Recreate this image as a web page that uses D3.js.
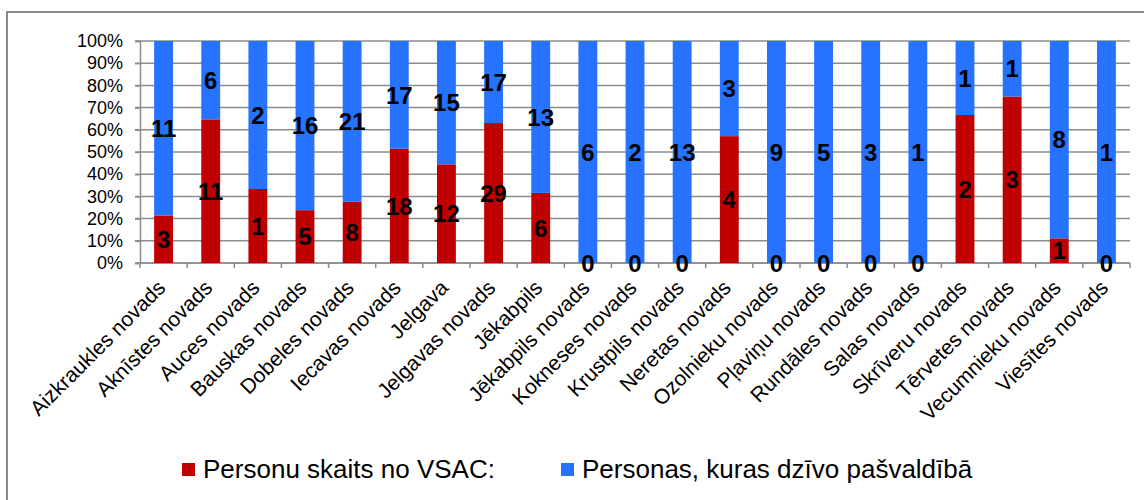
<!DOCTYPE html>
<html>
<head>
<meta charset="utf-8">
<script src="https://cdn.jsdelivr.net/npm/d3@7"></script>
<style>
    body { margin: 0; background: #fff; }
    svg { display: block; font-family: "Liberation Sans", Arial, sans-serif; }
</style>
</head>
<body>
<svg width="1144" height="500"></svg>
<script>
"use strict"

// novadi
const categories = [
    "Aizkraukles novads", "Aknīstes novads", "Auces novads", "Bauskas novads",
    "Dobeles novads", "Iecavas novads", "Jelgava", "Jelgavas novads", "Jēkabpils",
    "Jēkabpils novads", "Kokneses novads", "Krustpils novads", "Neretas novads",
    "Ozolnieku novads", "Pļaviņu novads", "Rundāles novads", "Salas novads",
    "Skrīveru novads", "Tērvetes novads", "Vecumnieku novads", "Viesītes novads"
]
// Personu skaits no VSAC
const fromVsac = [3, 11, 1, 5, 8, 18, 12, 29, 6, 0, 0, 0, 4, 0, 0, 0, 0, 2, 3, 1, 0]
// Personas, kuras dzīvo pašvaldībā
const living = [11, 6, 2, 16, 21, 17, 15, 17, 13, 6, 2, 13, 3, 9, 5, 3, 1, 1, 1, 8, 1]

const yTicks = [0, 0.1, 0.2, 0.3, 0.4, 0.5, 0.6, 0.7, 0.8, 0.9, 1]

const seriesNames = ["Personu skaits no VSAC:", "Personas, kuras dzīvo pašvaldībā"]
const seriesColors = ["#c00000", "#2673ff"]

const svg = d3.select("svg")

const area = { left: 140, right: 1130, top: 41, bottom: 263 }

// rāmis
svg.append("rect")
    .attr("x", 7).attr("y", 12)
    .attr("width", 1300).attr("height", 700)
    .style("fill", "none")
    .style("stroke", "#8a8a8a")
    .style("stroke-width", 2)

// tabula stacked datiem
const table = categories.map((c, i) => ({ cat: c, a: fromVsac[i], b: living[i] }))
const stacked = d3.stack().keys(["a", "b"]).offset(d3.stackOffsetExpand)(table)

const scX = d3.scaleBand()
    .domain(categories)
    .range([area.left, area.right])
    .padding(0)

const scY = d3.scaleLinear()
    .domain([0, 1])
    .range([area.bottom, area.top])

// režģis
svg.append("g")
    .selectAll("line")
    .data(yTicks)
    .enter()
    .append("line")
    .attr("x1", area.left - 5)
    .attr("x2", area.right)
    .attr("y1", d => scY(d))
    .attr("y2", d => scY(d))
    .style("stroke", "#8c8c8c")
    .style("stroke-width", 1.5)

// Y ass
const axisY = d3.axisLeft(scY)
    .tickValues(yTicks)
    .tickFormat(d3.format(".0%"))
    .tickSize(5)
    .tickPadding(12)

const gY = svg.append("g")
    .attr("transform", `translate(${area.left}, 0)`)
    .call(axisY)
gY.select(".domain").style("stroke", "#8c8c8c").style("stroke-width", 1.5)
gY.selectAll(".tick line").style("stroke", "#8c8c8c").style("stroke-width", 1.5)
gY.selectAll("text")
    .style("font-size", "18px")
    .style("font-family", "'Liberation Sans', Arial, sans-serif")
    .style("fill", "#000")

// X ass ar atzīmēm starp kategorijām
svg.append("line")
    .attr("x1", area.left).attr("x2", area.right)
    .attr("y1", area.bottom).attr("y2", area.bottom)
    .style("stroke", "#8c8c8c")
    .style("stroke-width", 1.5)

svg.append("g")
    .selectAll("line")
    .data(categories.concat([null]))
    .enter()
    .append("line")
    .attr("x1", (d, i) => area.left + i * scX.step())
    .attr("x2", (d, i) => area.left + i * scX.step())
    .attr("y1", area.bottom)
    .attr("y2", area.bottom + 5)
    .style("stroke", "#8c8c8c")
    .style("stroke-width", 1.5)

// slīpie paraksti
svg.append("g")
    .selectAll("text")
    .data(categories)
    .enter()
    .append("text")
    .attr("transform", d => `translate(${scX(d) + scX.bandwidth() / 2 + 3}, ${area.bottom + 26}) rotate(-45)`)
    .style("text-anchor", "end")
    .style("font-size", "21px")
    .style("fill", "#000")
    .text(d => d)

// stabiņi
const barW = scX.step() * 0.4
const layers = svg.selectAll(".layer")
    .data(stacked)
    .enter()
    .append("g")
    .attr("class", "layer")
    .style("fill", (d, i) => seriesColors[i])

layers.selectAll("rect")
    .data(d => d)
    .enter()
    .append("rect")
    .attr("x", d => scX(d.data.cat) + (scX.bandwidth() - barW) / 2)
    .attr("y", d => scY(d[1]))
    .attr("width", barW)
    .attr("height", d => scY(d[0]) - scY(d[1]))

// vērtību paraksti
stacked.forEach(layer => {
    svg.append("g")
        .selectAll("text")
        .data(layer)
        .enter()
        .append("text")
        .attr("x", d => scX(d.data.cat) + scX.bandwidth() / 2)
        .attr("y", d => scY((d[0] + d[1]) / 2))
        .attr("dy", ".36em")
        .style("text-anchor", "middle")
        .style("font-size", "24px")
        .style("font-weight", "bold")
        .style("fill", "#000")
        .text(d => d.data[layer.key])
})

// leģenda
const legendX = [182, 561]
const legend = svg.append("g")
    .selectAll("g")
    .data(seriesNames)
    .enter()
    .append("g")
    .attr("transform", (d, i) => `translate(${legendX[i]}, 463)`)

legend.append("rect")
    .attr("width", 13)
    .attr("height", 13)
    .style("fill", (d, i) => seriesColors[i])

legend.append("text")
    .attr("x", 21)
    .attr("y", 15)
    .style("font-size", "26px")
    .style("fill", "#000")
    .text(d => d)
</script>
</body>
</html>
